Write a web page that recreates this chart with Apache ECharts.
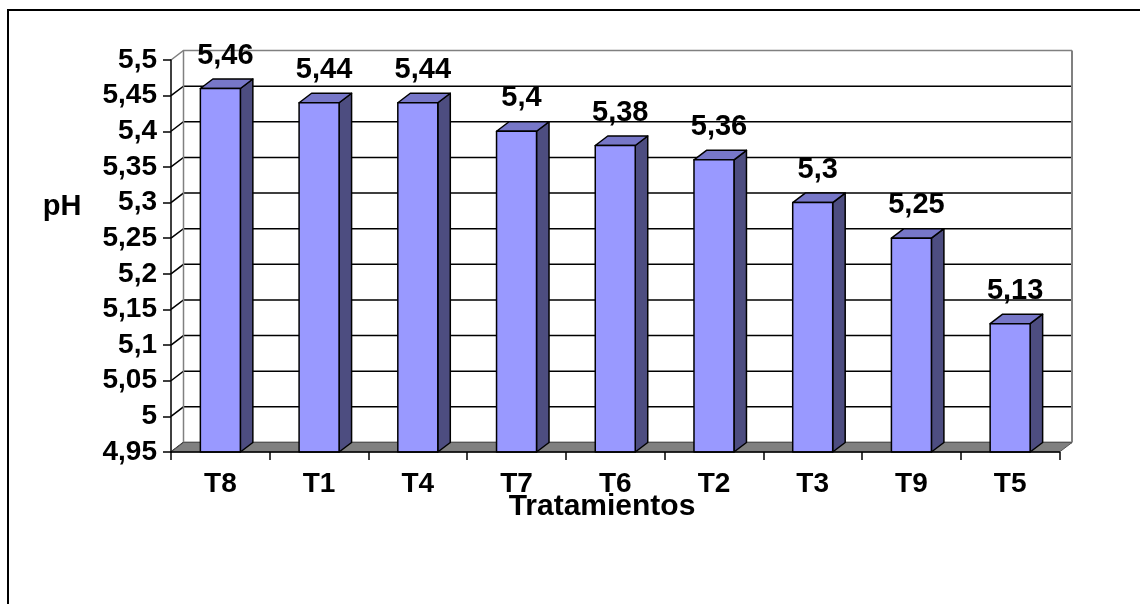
<!DOCTYPE html>
<html>
<head>
<meta charset="utf-8">
<title>pH por tratamiento</title>
<script src="https://cdn.jsdelivr.net/npm/echarts@6/dist/echarts.min.js"></script>
<style>
  html, body { margin: 0; padding: 0; background: #ffffff; }
  #chart { width: 1140px; height: 604px; }
</style>
</head>
<body>
<div id="chart"></div>
<script>
// Treatments, ordered from highest to lowest pH
const categories = ['T8', 'T1', 'T4', 'T7', 'T6', 'T2', 'T3', 'T9', 'T5'];
const phValues = [5.46, 5.44, 5.44, 5.4, 5.38, 5.36, 5.3, 5.25, 5.13];
// Value-axis ticks (pH)
const yTickValues = [4.95, 5, 5.05, 5.1, 5.15, 5.2, 5.25, 5.3, 5.35, 5.4, 5.45, 5.5];

const FONT = "'Liberation Sans', Arial, sans-serif";
const DX = 12.5, DY = -9.5;          // depth offset of the 3D box
const yMin = yTickValues[0];
const yMax = yTickValues[yTickValues.length - 1];

function fmt(v) {
  return String(+(+v).toFixed(2)).replace('.', ',');
}

// Back wall, side wall, gridlines and floor
function renderFrame(params, api) {
  const cs = params.coordSys;
  const gx = cs.x, gy = cs.y, gw = cs.width, gh = cs.height;
  const children = [];
  yTickValues.forEach(function (v, k) {
    const y = api.coord([0, v])[1];
    const isTop = k === yTickValues.length - 1;
    const col = isTop ? '#808080' : '#000000';
    children.push({
      type: 'polyline',
      shape: { points: [[gx, y], [gx + DX, y + DY], [gx + gw + DX, y + DY]] },
      style: { stroke: col, lineWidth: 1.5, fill: null }
    });
  });
  // wall edges
  children.push({
    type: 'line',
    shape: { x1: gx + DX, y1: gy + DY, x2: gx + DX, y2: gy + gh + DY },
    style: { stroke: '#808080', lineWidth: 1.5 }
  });
  children.push({
    type: 'line',
    shape: { x1: gx + gw + DX, y1: gy + DY, x2: gx + gw + DX, y2: gy + gh + DY },
    style: { stroke: '#808080', lineWidth: 2 }
  });
  // floor
  const fb = gy + gh;
  children.push({
    type: 'polygon',
    shape: { points: [[gx, fb], [gx + gw, fb], [gx + gw + DX, fb + DY], [gx + DX, fb + DY]] },
    style: { fill: '#808080', stroke: '#555555', lineWidth: 1 }
  });
  return { type: 'group', children: children };
}

// One 3D bar: front face, side face, top face and the value label
function renderBar(params, api) {
  const i = api.value(0), v = api.value(1);
  const top = api.coord([i, v]);
  const base = api.coord([i, yMin]);
  const bw = api.size([1, 0])[0] * 0.405;
  const x0 = top[0] - bw / 2, x1 = top[0] + bw / 2;
  const yt = top[1], yb = base[1];
  const line = { stroke: '#000000', lineWidth: 1.5, lineJoin: 'round' };
  return {
    type: 'group',
    children: [
      {
        type: 'polygon',
        shape: { points: [[x1, yb], [x1 + DX, yb + DY], [x1 + DX, yt + DY], [x1, yt]] },
        style: Object.assign({ fill: '#4d4d80' }, line)
      },
      {
        type: 'polygon',
        shape: { points: [[x0, yt], [x1, yt], [x1 + DX, yt + DY], [x0 + DX, yt + DY]] },
        style: Object.assign({ fill: '#7777c8' }, line)
      },
      {
        type: 'rect',
        shape: { x: x0, y: yt, width: bw, height: yb - yt },
        style: Object.assign({ fill: '#9999ff' }, line)
      },
      {
        type: 'text',
        x: top[0] + 5,
        y: yt - 33,
        style: {
          text: fmt(v),
          fill: '#000000',
          font: 'bold 29px ' + FONT,
          align: 'center',
          verticalAlign: 'middle'
        }
      }
    ]
  };
}

const chart = echarts.init(document.getElementById('chart'), null, { renderer: 'canvas' });

chart.setOption({
  backgroundColor: '#ffffff',
  animation: false,
  grid: { left: 171, right: 80.5, top: 60, bottom: 152, containLabel: false },
  xAxis: {
    type: 'category',
    data: categories,
    z: 10,
    boundaryGap: true,
    axisLine: { show: true, lineStyle: { color: '#000000', width: 1.5 } },
    axisTick: { show: true, inside: false, length: 8, lineStyle: { color: '#000000', width: 1.5 } },
    axisLabel: {
      margin: 18,
      color: '#000000',
      fontFamily: FONT,
      fontWeight: 'bold',
      fontSize: 28
    },
    splitLine: { show: false }
  },
  yAxis: {
    type: 'value',
    min: yMin,
    max: yMax,
    interval: 0.05,
    z: 10,
    axisLine: { show: true, lineStyle: { color: '#000000', width: 1.5 } },
    axisTick: { show: true, inside: false, length: 8, lineStyle: { color: '#000000', width: 1.5 } },
    axisLabel: {
      margin: 14,
      color: '#000000',
      fontFamily: FONT,
      fontWeight: 'bold',
      fontSize: 28,
      formatter: fmt
    },
    splitLine: { show: false }
  },
  graphic: [
    {
      type: 'rect',
      silent: true,
      z: 100,
      shape: { x: 8, y: 10, width: 1300, height: 800 },
      style: { fill: null, stroke: '#000000', lineWidth: 2 }
    },
    {
      type: 'text',
      silent: true,
      x: 62, y: 207,
      style: {
        text: 'pH', fill: '#000000',
        font: 'bold 29px ' + FONT,
        align: 'center', verticalAlign: 'middle'
      }
    },
    {
      type: 'text',
      silent: true,
      x: 602, y: 507,
      style: {
        text: 'Tratamientos', fill: '#000000',
        font: 'bold 30px ' + FONT,
        align: 'center', verticalAlign: 'middle'
      }
    }
  ],
  series: [
    {
      type: 'custom',
      name: 'frame',
      silent: true,
      renderItem: renderFrame,
      data: [[0, yMin]],
      z: 1
    },
    {
      type: 'custom',
      name: 'pH',
      renderItem: renderBar,
      data: phValues.map(function (v, i) { return [i, v]; }),
      z: 2
    }
  ]
});
</script>
</body>
</html>
